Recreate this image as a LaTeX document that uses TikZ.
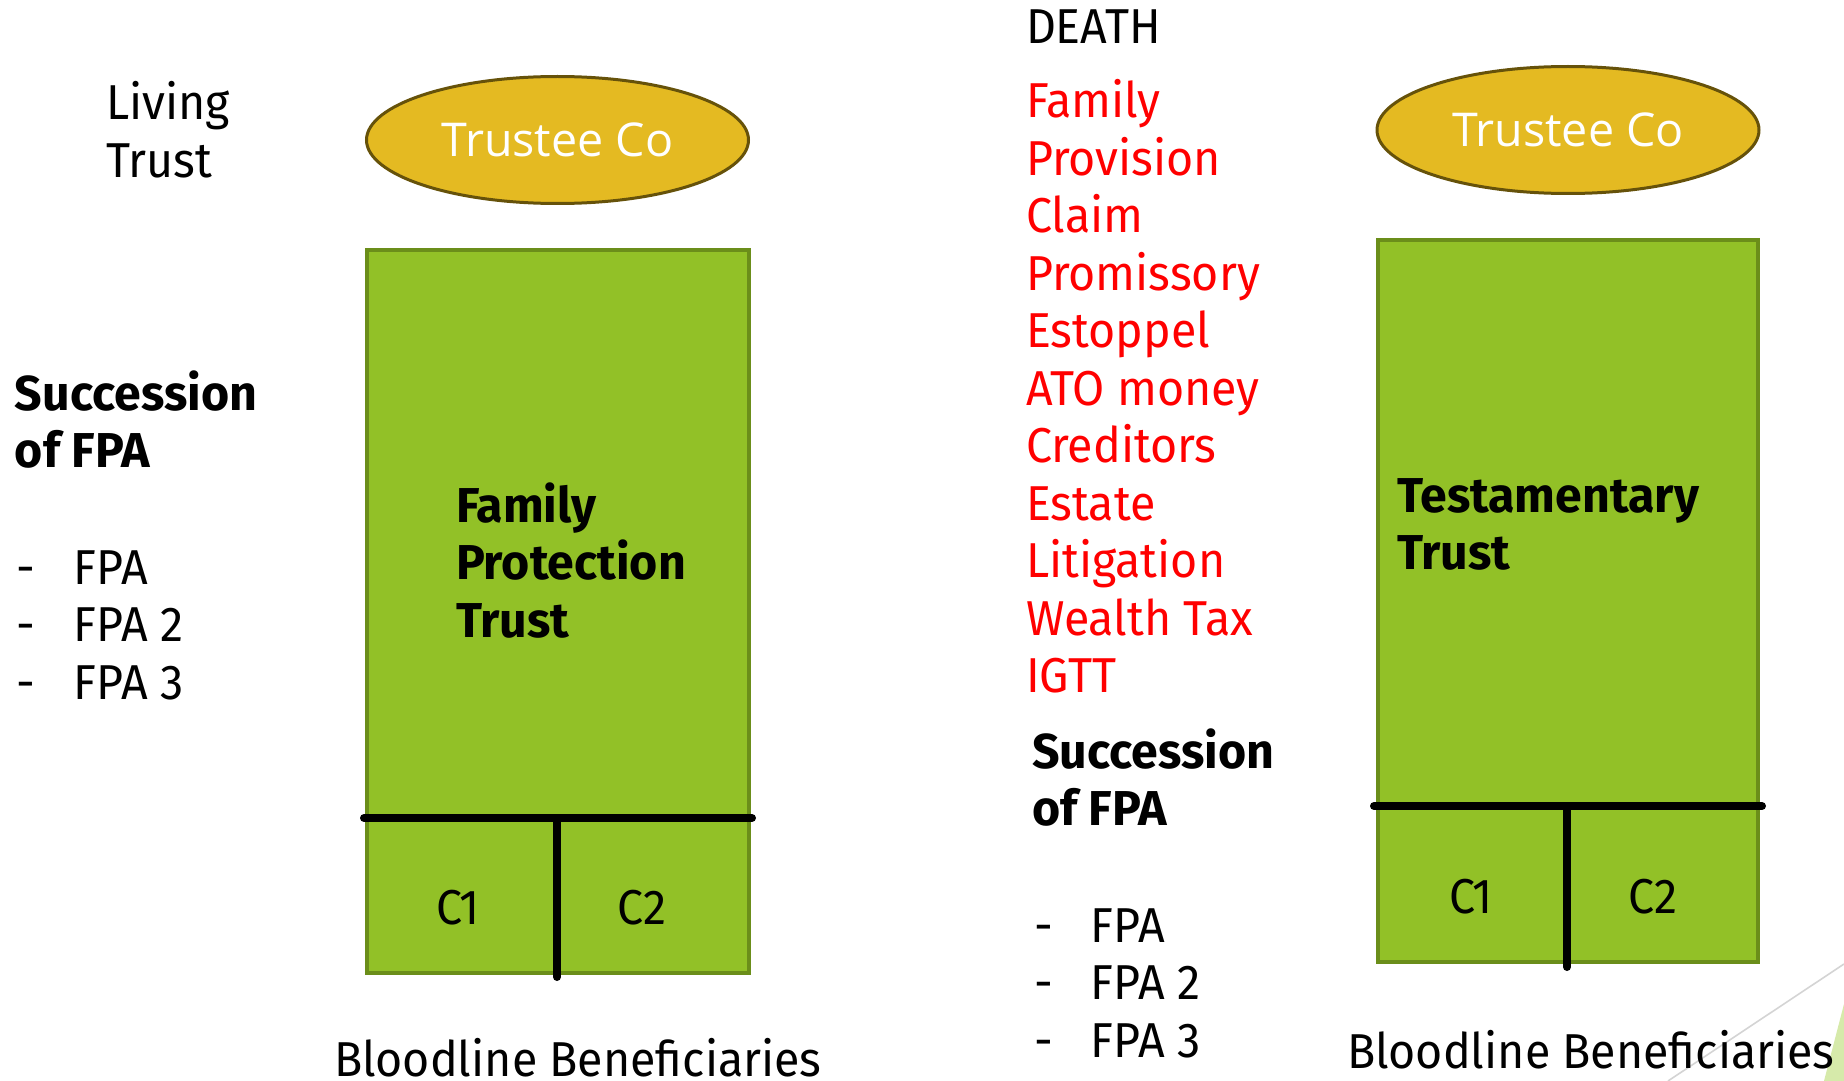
\documentclass[tikz,border=0pt]{standalone}
\usepackage{fontspec}
\setmainfont[FakeStretch=0.95, BoldFeatures={FakeStretch=0.985}]{Fira Sans}
\newfontfamily\ovalfont{Open Sans}
\usetikzlibrary{shapes.geometric}

\definecolor{boxgreen}{RGB}{146,193,39}
\definecolor{boxedge}{RGB}{107,142,26}
\definecolor{ovalfill}{RGB}{228,186,34}
\definecolor{ovaledge}{RGB}{102,82,10}
\definecolor{decoline}{RGB}{212,212,212}
\definecolor{decogreen}{RGB}{214,234,170}

% left-aligned stack of lines whose baseline is the first line
\newcommand\linestack[1]{\begin{tabular}[t]{@{}l@{}}#1\end{tabular}}
% bulleted entry with a hyphen in a fixed-width gutter
\newcommand\dashitem[1]{\makebox[28.5pt][l]{-}#1}

\begin{document}
\begin{tikzpicture}[x=0.5pt,y=-0.5pt,
  txt/.style={anchor=base west, inner sep=0pt, outer sep=0pt,
    font=\fontsize{24.5}{28.75}\selectfont},
  txtb/.style={txt, font=\fontsize{24.5}{28.75}\selectfont\bfseries},
  trustbox/.style={rectangle, draw=boxedge, fill=boxgreen, line width=2pt,
    minimum width=190pt, inner sep=0pt},
  oval/.style={ellipse, draw=ovaledge, fill=ovalfill, line width=1.5pt,
    minimum width=191pt, minimum height=63.5pt, inner sep=0pt,
    text=white, font=\ovalfont\fontsize{23.3}{28}\selectfont},
  divider/.style={line width=4pt, line cap=round},
]
\useasboundingbox (0,0) rectangle (1844,1081);

% corner decoration
\fill[decogreen] (1844,1004) -- (1824,1081) -- (1844,1081) -- cycle;
\coordinate (decoA) at (1844,964);
\coordinate (decoB) at (1668,1081);
\draw[decoline, line width=0.8pt] (decoA) -- (decoB);

% ---------------- living trust side ----------------
\node[txt] (living) at (106,120) {\linestack{Living\\Trust}};
\node[oval] (tcL) at (557.5,140) {Trustee Co};

\node[trustbox, minimum width=191pt, minimum height=361.5pt] (fpt) at (558,611.5) {};
\coordinate (fptW) at (364,818);
\coordinate (fptE) at (752,818);
\coordinate (fptM) at (557,818);
\coordinate (fptB) at (557,977);
\draw[divider] (fptW) -- (fptE);
\draw[divider] (fptM) -- (fptB);

\node[txtb] (fptlabel) at (456,522) {\linestack{Family\\Protection\\Trust}};
\node[txt, anchor=base] (c1L) at (458,924) {C1};
\node[txt, anchor=base] (c2L) at (642,924) {C2};

\node[txtb] (succL) at (15,410) {\linestack{Succession\\of FPA}};
\node[txt] (listL) at (17,584) {\linestack{\dashitem{FPA}\\\dashitem{FPA 2}\\\dashitem{FPA 3}}};

\node[txt] (bbL) at (334,1076) {Bloodline Beneficiaries};

% ---------------- death side ----------------
\node[txt] (death) at (1026,44) {DEATH};
\node[txt, text=red] (risks) at (1026,118) {\linestack{Family\\Provision\\Claim\\Promissory\\Estoppel\\ATO money\\Creditors\\Estate\\Litigation\\Wealth Tax\\IGTT}};

\node[txtb] (succR) at (1032,768) {\linestack{Succession\\of FPA}};
\node[txt] (listR) at (1034,942) {\linestack{\dashitem{FPA}\\\dashitem{FPA 2}\\\dashitem{FPA 3}}};

\node[oval] (tcR) at (1568,130) {Trustee Co};

\node[trustbox, minimum width=190pt, minimum height=361pt] (tt) at (1568,601) {};
\coordinate (ttW) at (1374,806);
\coordinate (ttE) at (1762,806);
\coordinate (ttM) at (1567,806);
\coordinate (ttB) at (1567,967);
\draw[divider] (ttW) -- (ttE);
\draw[divider] (ttM) -- (ttB);

\node[txtb] (ttlabel) at (1397,512) {\linestack{Testamentary\\Trust}};
\node[txt, anchor=base] (c1R) at (1471,913) {C1};
\node[txt, anchor=base] (c2R) at (1653,913) {C2};

\node[txt] (bbR) at (1347,1068) {Bloodline Beneficiaries};
\end{tikzpicture}
\end{document}
